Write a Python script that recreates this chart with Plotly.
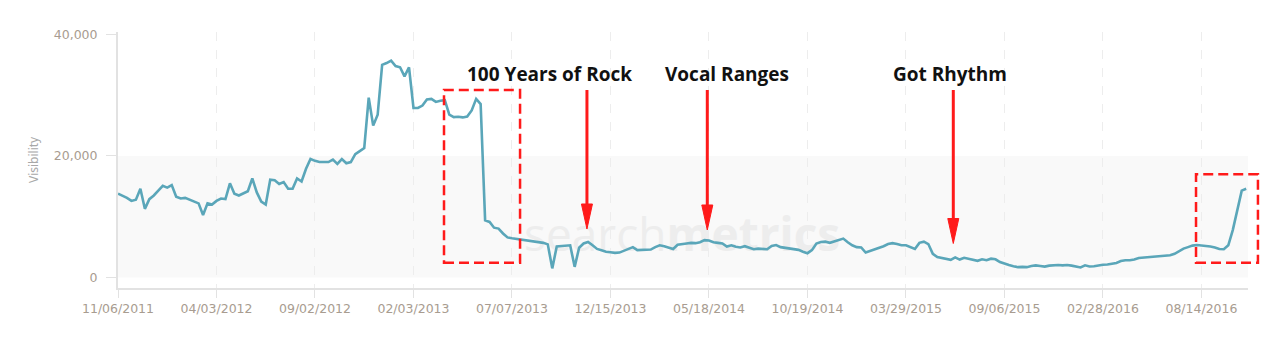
import plotly.graph_objects as go

# ---- data (weekly visibility index) ----
visibility = [
    13800, 13500, 13100, 12600, 12800, 14600, 11300, 12900, 13500, 14300,
    15100, 14800, 15200, 13300, 13000, 13100, 12800, 12600, 12200, 10300,
    12200, 12000, 12600, 13000, 12900, 15500, 13800, 13500, 13900, 14200,
    16300, 14000, 12500, 12000, 16100, 16000, 15400, 15700, 14600, 14600,
    16300, 15800, 17900, 19500, 19200, 19000, 19000, 19000, 19400, 18700,
    19500, 18800, 19000, 20300, 20800, 21300, 29600, 25000, 26800, 35000,
    35300, 35700, 34800, 34600, 33100, 34600, 27900, 27900, 28300, 29300,
    29400, 28900, 29100, 29200, 26800, 26400, 26450, 26350, 26500, 27500,
    29400, 28550, 9400, 9150, 8200, 8050, 7250, 6600, 6450, 6350,
    6300, 6150, 6100, 6000, 5900, 5700, 5450, 1500, 5100, 5150,
    5200, 5300, 1750, 4900, 5600, 5850, 5300, 4700, 4500, 4250,
    4150, 4050, 4100, 4400, 4650, 5000, 4500, 4500, 4500, 4600,
    5000, 5300, 5150, 4900, 4700, 5400, 5550, 5600, 5700, 5650,
    5800, 6150, 6100, 5800, 5700, 5600, 5100, 5300, 5050, 4950,
    5150, 4850, 4650, 4750, 4700, 4650, 5200, 5350, 5000, 4900,
    4800, 4750, 4550, 4250, 4000, 4500, 5600, 5850, 5900, 5700,
    5900, 6150, 6400, 5800, 5300, 5000, 4950, 4100, 4350, 4600,
    4900, 5150, 5500, 5650, 5500, 5300, 5300, 5000, 4700, 5700,
    5900, 5500, 3900, 3350, 3200, 3000, 2900, 3300, 2950, 3250,
    3100, 2950, 2750, 3000, 2850, 3100, 3000, 2550, 2250, 2050,
    1850, 1700, 1750, 1700, 1900, 2000, 1900, 1800, 1950, 2050,
    2050, 2000, 2050, 1950, 1800, 1650, 2000, 1800, 1850, 2000,
    2100, 2150, 2250, 2400, 2700, 2850, 2850, 2950, 3200, 3250,
    3300, 3450, 3500, 3450, 3500, 3650, 3900, 4350, 4750, 5000,
    5250, 5350, 5300, 5200, 5100, 4950, 4700, 4650, 5300, 7800,
    11300, 14300, 14600,
]

tick_labels = [
    "11/06/2011", "04/03/2012", "09/02/2012", "02/03/2013", "07/07/2013",
    "12/15/2013", "05/18/2014", "10/19/2014", "03/29/2015", "09/06/2015",
    "02/28/2016", "08/14/2016",
]
weeks_per_tick = 22
y_ticks = [0, 20000, 40000]

callouts = ["100 Years of Rock", "Vocal Ranges", "Got Rhythm"]
callout_x = [0.3823, 0.5385, 0.7367]       # label centres (paper)
arrow_x = [0.4150, 0.5215, 0.7392]         # arrow positions (paper)
arrow_tip = [0.2305, 0.2266, 0.1738]       # arrow tips (paper)

x_idx = list(range(len(visibility)))
tick_vals = [i * weeks_per_tick for i in range(len(tick_labels))]

RED = "#ff1a1a"
LABEL = "#a89c90"
AXIS = "#e2e2e2"

fig = go.Figure()

# faint watermark behind the line
fig.add_trace(go.Scatter(
    x=[126], y=[6300], mode="text",
    text=["search<b>metrics</b>"],
    textfont=dict(family="Open Sans", size=46, color="#ededed"),
    hoverinfo="skip", showlegend=False,
))

fig.add_trace(go.Scatter(
    x=x_idx, y=visibility, mode="lines",
    line=dict(color="#5aa6b9", width=2.6),
    hoverinfo="y", showlegend=False,
))

shapes = [
    # light band 0..20,000
    dict(type="rect", xref="paper", yref="y", x0=0, x1=1, y0=0, y1=20000,
         fillcolor="#f9f9f9", line=dict(width=0), layer="below"),
    # dashed highlight boxes
    dict(type="rect", xref="paper", yref="paper", x0=0.2885, x1=0.3558,
         y0=0.0988, y1=0.7734, line=dict(color=RED, width=2.5, dash="10px,5px")),
    dict(type="rect", xref="paper", yref="paper", x0=0.954, x1=1.0088,
         y0=0.0988, y1=0.444, line=dict(color=RED, width=2.5, dash="10px,5px")),
]

head_len = 25 / 256
head_half = 5.5 / 1130
for ax, tip in zip(arrow_x, arrow_tip):
    shapes.append(dict(type="line", xref="paper", yref="paper",
                       x0=ax, x1=ax, y0=0.7734, y1=tip + head_len * 0.8,
                       line=dict(color=RED, width=3)))
    shapes.append(dict(
        type="path", xref="paper", yref="paper",
        path=f"M {ax - head_half},{tip + head_len} L {ax + head_half},{tip + head_len} L {ax},{tip} Z",
        fillcolor=RED, line=dict(color=RED, width=1)))

annotations = [
    dict(text=t, x=cx, y=0.836, xref="paper", yref="paper", showarrow=False,
         xanchor="center", yanchor="middle",
         font=dict(family="Open Sans", size=19, color="#111111", weight="bold"))
    for t, cx in zip(callouts, callout_x)
]
annotations.append(dict(
    text="Visibility", x=-0.0752, y=0.5, xref="paper", yref="paper",
    showarrow=False, textangle=-90, xanchor="center", yanchor="middle",
    font=dict(family="Noto Sans", size=12, color="#a8a8a8")))

fig.update_layout(
    width=1282, height=348,
    margin=dict(l=118, r=34, t=32, b=60),
    paper_bgcolor="white", plot_bgcolor="white",
    shapes=shapes, annotations=annotations,
    xaxis=dict(
        range=[0, 252.4], tickmode="array", tickvals=tick_vals, ticktext=tick_labels,
        showgrid=True, gridcolor="#ededed", griddash="dash", gridwidth=1,
        showline=True, linecolor=AXIS, linewidth=2,
        ticks="outside", ticklen=8, tickcolor=AXIS, tickwidth=1,
        tickfont=dict(family="DejaVu Sans", size=12.5, color=LABEL),
        zeroline=False,
    ),
    yaxis=dict(
        range=[-1730, 40410], tickmode="array", tickvals=y_ticks,
        tickformat=",", showgrid=False, zeroline=False,
        showline=True, linecolor=AXIS, linewidth=2,
        ticks="outside", ticklen=10, tickcolor=AXIS, tickwidth=1,
        ticklabelstandoff=6,
        tickfont=dict(family="DejaVu Sans", size=12.5, color=LABEL),
    ),
)

fig.write_html("out.html")
